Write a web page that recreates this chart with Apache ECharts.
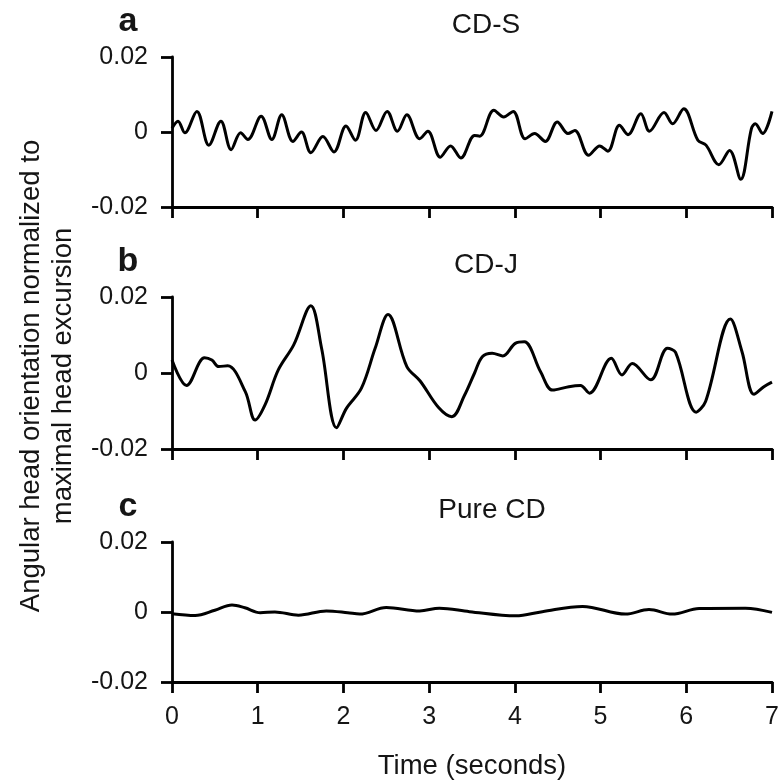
<!DOCTYPE html>
<html>
<head>
<meta charset="utf-8">
<script src="https://cdn.jsdelivr.net/npm/echarts@6/dist/echarts.min.js"></script>
<style>
html,body{margin:0;padding:0;background:#fff;}
#chart{width:782px;height:781px;}
</style>
</head>
<body>
<div id="chart"></div>
<script>
// Panel a: CD-S
var timeA = [0, 0.07, 0.15, 0.29, 0.43, 0.57, 0.69, 0.80, 0.885, 1.04, 1.165, 1.28, 1.41, 1.51, 1.62, 1.76, 1.89, 2.03, 2.14, 2.26, 2.38, 2.51, 2.63, 2.74, 2.89, 2.985, 3.13, 3.25, 3.37, 3.53, 3.59, 3.755, 3.87, 3.98, 4.12, 4.23, 4.355, 4.495, 4.62, 4.70, 4.86, 4.99, 5.085, 5.22, 5.32, 5.47, 5.57, 5.74, 5.84, 5.97, 6.135, 6.23, 6.38, 6.505, 6.635, 6.76, 6.805, 6.89, 7.0];
var valueA = [0.0010, 0.0029, -0.0002, 0.0055, -0.0035, 0.0029, -0.0047, -0.0002, -0.0020, 0.0042, -0.0020, 0.0046, -0.0025, 0.0000, -0.0055, -0.0012, -0.0053, 0.0016, -0.0022, 0.0052, 0.0004, 0.0055, 0.0002, 0.0046, -0.0018, 0.0002, -0.0067, -0.0037, -0.0069, -0.0009, -0.0011, 0.0058, 0.0040, 0.0055, -0.0018, -0.0004, -0.0025, 0.0027, -0.0004, 0.0004, -0.0062, -0.0037, -0.0051, 0.0018, -0.0007, 0.0049, 0.0002, 0.0052, 0.0022, 0.0062, -0.0022, -0.0035, -0.0087, -0.0049, -0.0126, 0.0009, 0.0022, -0.0004, 0.0055];

// Panel b: CD-J
var timeB = [0, 0.17, 0.38, 0.465, 0.545, 0.65, 0.855, 0.97, 1.085, 1.24, 1.42, 1.62, 1.745, 1.92, 2.035, 2.21, 2.37, 2.52, 2.74, 2.895, 3.11, 3.265, 3.41, 3.53, 3.62, 3.735, 3.86, 4.005, 4.11, 4.30, 4.44, 4.63, 4.765, 4.87, 5.125, 5.25, 5.37, 5.585, 5.78, 5.875, 6.115, 6.225, 6.515, 6.65, 6.79, 6.905, 7.0];
var valueB = [0.0034, -0.0033, 0.0040, 0.0034, 0.0017, 0.0019, -0.0049, -0.0124, -0.0084, 0.0008, 0.0074, 0.0177, 0.0065, -0.0144, -0.0093, -0.0040, 0.0065, 0.0154, 0.0017, -0.0021, -0.0091, -0.0115, -0.0060, 0.0000, 0.0043, 0.0052, 0.0045, 0.0078, 0.0082, 0.0003, -0.0045, -0.0036, -0.0033, -0.0053, 0.0039, -0.0005, 0.0025, -0.0018, 0.0065, 0.0054, -0.0103, -0.0075, 0.0142, 0.0056, -0.0056, -0.0036, -0.0024];

// Panel c: Pure CD
var timeC = [0, 0.27, 0.50, 0.70, 0.85, 1.03, 1.2, 1.475, 1.8, 2.05, 2.19, 2.5, 2.89, 3.12, 3.47, 4.01, 4.32, 4.79, 5.29, 5.565, 5.835, 6.15, 6.69, 7.0];
var valueC = [-0.0005, -0.0010, 0.0005, 0.0020, 0.0012, -0.0002, 0.0000, -0.0009, 0.0003, -0.0002, -0.0006, 0.0013, 0.0003, 0.0011, 0.0001, -0.0011, 0.0001, 0.0016, -0.0006, 0.0007, -0.0006, 0.0010, 0.0011, -0.0001];

var panelLetters = ['a', 'b', 'c'];
var panelTitles = ['CD-S', 'CD-J', 'Pure CD'];
var xTicks = [0, 1, 2, 3, 4, 5, 6, 7];
var yTicks = [-0.02, 0, 0.02];
var xAxisName = 'Time (seconds)';
var yAxisNameLines = ['Angular head orientation normalized to', 'maximal head excursion'];

function pairs(t, v) { return t.map(function (x, i) { return [x, v[i]]; }); }
var seriesData = [pairs(timeA, valueA), pairs(timeB, valueB), pairs(timeC, valueC)];

var FONT = 'Liberation Sans, Arial, Helvetica, sans-serif';
var TXT = '#151515';
var gridTops = [57, 297, 542];
var gridHeights = [150, 152, 150];
var titleX = [486, 486, 492];

var grids = [], xAxes = [], yAxes = [], series = [], graphics = [];
for (var i = 0; i < 3; i++) {
  grids.push({ left: 172, right: 10, top: gridTops[i], height: gridHeights[i] });
  xAxes.push({
    gridIndex: i, type: 'value', min: xTicks[0], max: xTicks[xTicks.length - 1], interval: 1,
    name: i === 2 ? xAxisName : '', nameLocation: 'middle', nameGap: 70,
    nameTextStyle: { fontFamily: FONT, fontSize: 27.5, color: TXT },
    axisLine: { show: true, onZero: false, lineStyle: { color: '#000', width: 2.8 } },
    axisTick: { show: true, inside: false, length: 11, lineStyle: { color: '#000', width: 2.8 } },
    axisLabel: { show: i === 2, margin: 23, fontFamily: FONT, fontSize: 25, color: TXT },
    splitLine: { show: false }
  });
  yAxes.push({
    gridIndex: i, type: 'value', min: yTicks[0], max: yTicks[yTicks.length - 1], interval: 0.02,
    axisLine: { show: true, lineStyle: { color: '#000', width: 2.8 } },
    axisTick: { show: true, inside: false, length: 11, lineStyle: { color: '#000', width: 2.8 } },
    axisLabel: {
      margin: 24, fontFamily: FONT, fontSize: 25, color: TXT,
      formatter: function (v) { return Math.abs(v) < 1e-9 ? '0' : v.toFixed(2); }
    },
    splitLine: { show: false }
  });
  series.push({
    type: 'line', xAxisIndex: i, yAxisIndex: i, data: seriesData[i],
    showSymbol: false, smooth: 0.35,
    lineStyle: { color: '#000', width: 3 }
  });
  graphics.push({
    type: 'text', x: 128, y: gridTops[i] - 35,
    style: { text: panelLetters[i], font: 'bold 34px ' + FONT, fill: TXT, textAlign: 'center', textVerticalAlign: 'middle' }
  });
  graphics.push({
    type: 'text', x: titleX[i], y: gridTops[i] - 32,
    style: { text: panelTitles[i], font: '28px ' + FONT, fill: TXT, textAlign: 'center', textVerticalAlign: 'middle' }
  });
}
graphics.push({
  type: 'text', x: 31, y: 376, rotation: Math.PI / 2,
  style: { text: yAxisNameLines[0], font: '27.5px ' + FONT, fill: TXT, textAlign: 'center', textVerticalAlign: 'middle' }
});
graphics.push({
  type: 'text', x: 63, y: 376, rotation: Math.PI / 2,
  style: { text: yAxisNameLines[1], font: '27.5px ' + FONT, fill: TXT, textAlign: 'center', textVerticalAlign: 'middle' }
});

var chart = echarts.init(document.getElementById('chart'));
chart.setOption({
  animation: false,
  backgroundColor: '#fff',
  grid: grids,
  xAxis: xAxes,
  yAxis: yAxes,
  series: series,
  graphic: graphics
});
</script>
</body>
</html>
